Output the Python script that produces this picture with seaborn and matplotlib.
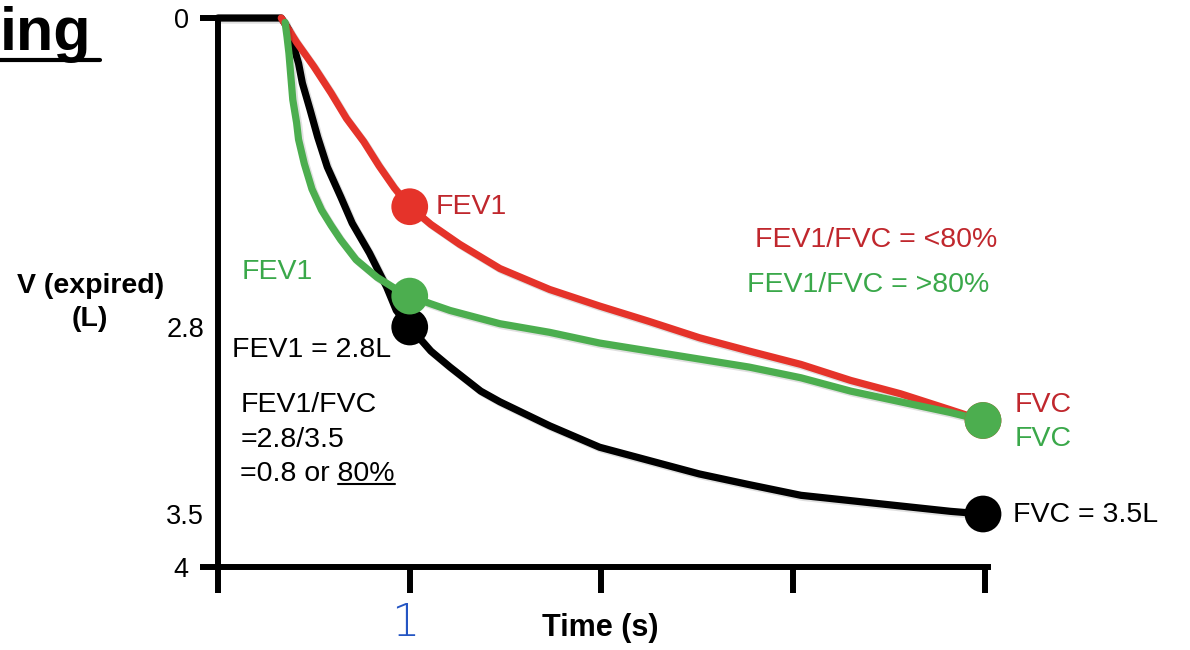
import matplotlib.patheffects as pe
import matplotlib.pyplot as plt
import numpy as np
import pandas as pd
import seaborn as sns
from matplotlib.lines import Line2D

# --- values (time in s, expired volume in L) ---
normal_t = [0.00, 0.33, 0.37, 0.39, 0.42, 0.44, 0.48, 0.52, 0.57, 0.64,
            0.70, 0.79, 0.88, 0.93, 1.00, 1.11, 1.21, 1.37, 1.47, 1.73,
            1.99, 2.25, 2.51, 2.77, 3.04, 3.30, 3.56, 3.82, 3.99]
normal_v = [0.00, 0.00, 0.11, 0.23, 0.41, 0.59, 0.83, 1.08, 1.35, 1.62,
            1.86, 2.13, 2.44, 2.65, 2.80, 2.89, 2.95, 3.04, 3.08, 3.17,
            3.25, 3.30, 3.35, 3.39, 3.43, 3.45, 3.47, 3.49, 3.50]

obstr_t = [0.33, 0.41, 0.50, 0.59, 0.67, 0.76, 0.84, 0.92, 1.00, 1.11,
           1.26, 1.47, 1.73, 1.99, 2.25, 2.51, 2.77, 3.04, 3.30, 3.56,
           3.82, 3.99]
obstr_v = [0.00, 0.22, 0.44, 0.68, 0.91, 1.12, 1.34, 1.54, 1.71, 1.87,
           2.05, 2.27, 2.46, 2.61, 2.75, 2.84, 2.89, 2.94, 3.00, 3.05,
           3.11, 3.15]

restr_t = [0.35, 0.36, 0.37, 0.38, 0.39, 0.41, 0.42, 0.45, 0.49, 0.54,
           0.59, 0.64, 0.72, 0.83, 0.95, 1.00, 1.11, 1.21, 1.47, 1.73,
           1.99, 2.25, 2.51, 2.77, 3.04, 3.30, 3.56, 3.82, 3.99]
restr_v = [0.04, 0.17, 0.32, 0.53, 0.74, 0.95, 1.10, 1.32, 1.55, 1.74,
           1.88, 2.01, 2.19, 2.35, 2.48, 2.52, 2.59, 2.65, 2.77, 2.82,
           2.86, 2.89, 2.92, 2.95, 2.99, 3.04, 3.08, 3.12, 3.15]

fev1_t = 1.00
fvc_t = 3.99
fev1_v = {"normal": 2.80, "obstructive": 1.71, "restrictive": 2.52}
fvc_v = {"normal": 3.50, "obstructive": 3.15, "restrictive": 3.15}

vol_ticks = [0, 2.8, 3.5, 4]
vol_labels = ["0", "2.8", "3.5", "4"]
time_ticks = [0, 1, 2, 3, 4]

RED, RED_TXT = "#e5332a", "#c0272d"
GREEN, GREEN_TXT = "#4cae4f", "#3aa84a"
palette = {"normal": "black", "obstructive": RED, "restrictive": GREEN}
order = ["normal", "obstructive", "restrictive"]

curves = pd.concat([
    pd.DataFrame({"t": normal_t, "v": normal_v, "curve": "normal"}),
    pd.DataFrame({"t": obstr_t, "v": obstr_v, "curve": "obstructive"}),
    pd.DataFrame({"t": restr_t, "v": restr_v, "curve": "restrictive"}),
], ignore_index=True)

points = pd.DataFrame({
    "t": [fev1_t] * 3 + [fvc_t] * 3,
    "v": [fev1_v[c] for c in order] + [fvc_v[c] for c in order],
    "curve": order + order,
})

sns.set_style("white")
plt.rcParams["font.family"] = ["Liberation Sans", "DejaVu Sans"]
for key in ["text.color", "axes.labelcolor", "xtick.color", "ytick.color"]:
    plt.rcParams[key] = "black"

fig = plt.figure(figsize=(11.9, 6.5), dpi=100, facecolor="white")
ax = fig.add_axes([218 / 1190, 1 - 567 / 650, 770 / 1190, 549 / 650])

# the hand-drawn volume axis is not linear: piecewise scale between the ticks
_knot_v = [-10, 0, 2.8, 3.5, 4, 14]
_knot_p = [-1104, 0, 309, 496, 549, 1610]
ax.set_yscale(
    "function",
    functions=(lambda v: np.interp(v, _knot_v, _knot_p),
               lambda p: np.interp(p, _knot_p, _knot_v)),
)

sns.lineplot(data=curves, x="t", y="v", hue="curve", hue_order=order,
             palette=palette, sort=False, estimator=None, linewidth=5.2,
             legend=False, ax=ax)
shadow = [pe.SimpleLineShadow(offset=(1.5, -1.5), alpha=0.12), pe.Normal()]
for line in ax.lines:
    line.set_clip_on(False)
    line.set_solid_capstyle("round")
    line.set_solid_joinstyle("round")
    line.set_path_effects(shadow)

sns.scatterplot(data=points, x="t", y="v", hue="curve", hue_order=order,
                palette=palette, s=700, linewidth=0, legend=False,
                clip_on=False, zorder=3, ax=ax)

ax.set_xlim(0, 4.016)
ax.set_ylim(4, 0)
ax.set_xticks(time_ticks)
ax.set_yticks(vol_ticks)
ax.set_yticklabels(vol_labels)

sns.despine(ax=ax)
for side in ["left", "bottom"]:
    ax.spines[side].set_linewidth(4.3)
    ax.spines[side].set_color("black")

ax.tick_params(axis="x", bottom=True, direction="out", length=19, width=4.3,
               color="black", labelbottom=False)
ax.tick_params(axis="y", left=True, direction="out", length=13, width=4.3,
               color="black", labelsize=19.5, pad=8)
for tk in ax.yaxis.get_major_ticks()[1:3]:
    tk.tick1line.set_visible(False)
    tk.set_pad(-3)

ax.set_ylabel("V (expired)\n(L)", rotation=0, fontsize=20.5,
              fontweight="bold", ha="center", va="center", linespacing=1.35)
ax.yaxis.set_label_coords(-0.166, 0.481)
ax.set_xlabel("Time (s)", fontsize=22, fontweight="bold")
ax.xaxis.label.set_va("center")
ax.xaxis.set_label_coords(0.496, -0.111)

fs = 20.5
ax.text(0.282, 0.656, "FEV1", color=RED_TXT, fontsize=fs, va="center",
        transform=ax.transAxes)
ax.text(0.697, 0.596, "FEV1/FVC = <80%", color=RED_TXT, fontsize=fs,
        va="center", transform=ax.transAxes)
ax.text(0.687, 0.514, "FEV1/FVC = >80%", color=GREEN_TXT, fontsize=fs,
        va="center", transform=ax.transAxes)
ax.text(0.031, 0.537, "FEV1", color=GREEN_TXT, fontsize=fs, va="center",
        transform=ax.transAxes)
ax.text(0.018, 0.395, "FEV1 = 2.8L", color="black", fontsize=fs,
        va="center", transform=ax.transAxes)
ax.text(0.029, 0.295, "FEV1/FVC", color="black", fontsize=fs,
        va="center", transform=ax.transAxes)
ax.text(0.029, 0.231, "=2.8/3.5", color="black", fontsize=fs,
        va="center", transform=ax.transAxes)
ratio_txt = ax.text(0.029, 0.169, "=0.8 or 80%", color="black", fontsize=fs,
                    va="center", transform=ax.transAxes)
ax.text(1.035, 0.295, "FVC", color=RED_TXT, fontsize=fs, va="center",
        transform=ax.transAxes, clip_on=False)
ax.text(1.035, 0.233, "FVC", color=GREEN_TXT, fontsize=fs, va="center",
        transform=ax.transAxes, clip_on=False)
ax.text(1.032, 0.095, "FVC = 3.5L", color="black", fontsize=fs,
        va="center", transform=ax.transAxes, clip_on=False)

# cut-off slide title and the handwritten "1"
fig.text(0.0, 1 - 50 / 650, "ing", fontsize=44, fontweight="bold",
         ha="left", va="baseline")
fig.add_artist(Line2D([0, 100 / 1190], [1 - 60 / 650] * 2, color="black",
                      linewidth=3, transform=fig.transFigure))
fig.text(405 / 1190, 1 - 624 / 650, "1", fontsize=32, color="#2455c3",
         ha="center", va="center", family="DejaVu Sans", weight="light")

# underline "80%"
fig.canvas.draw()
renderer = fig.canvas.get_renderer()
bb = ratio_txt.get_window_extent(renderer)
tmp = ax.text(0, 0, "80%", fontsize=fs, transform=ax.transAxes)
w = tmp.get_window_extent(renderer).width
tmp.remove()
(x0, y0), (x1, _) = fig.transFigure.inverted().transform(
    [(bb.x1 - w, bb.y0 + 3), (bb.x1, bb.y0 + 3)])
fig.add_artist(Line2D([x0, x1], [y0, y0], color="black", linewidth=1.5,
                      transform=fig.transFigure))

fig.savefig("out.png", dpi=100, facecolor="white")
